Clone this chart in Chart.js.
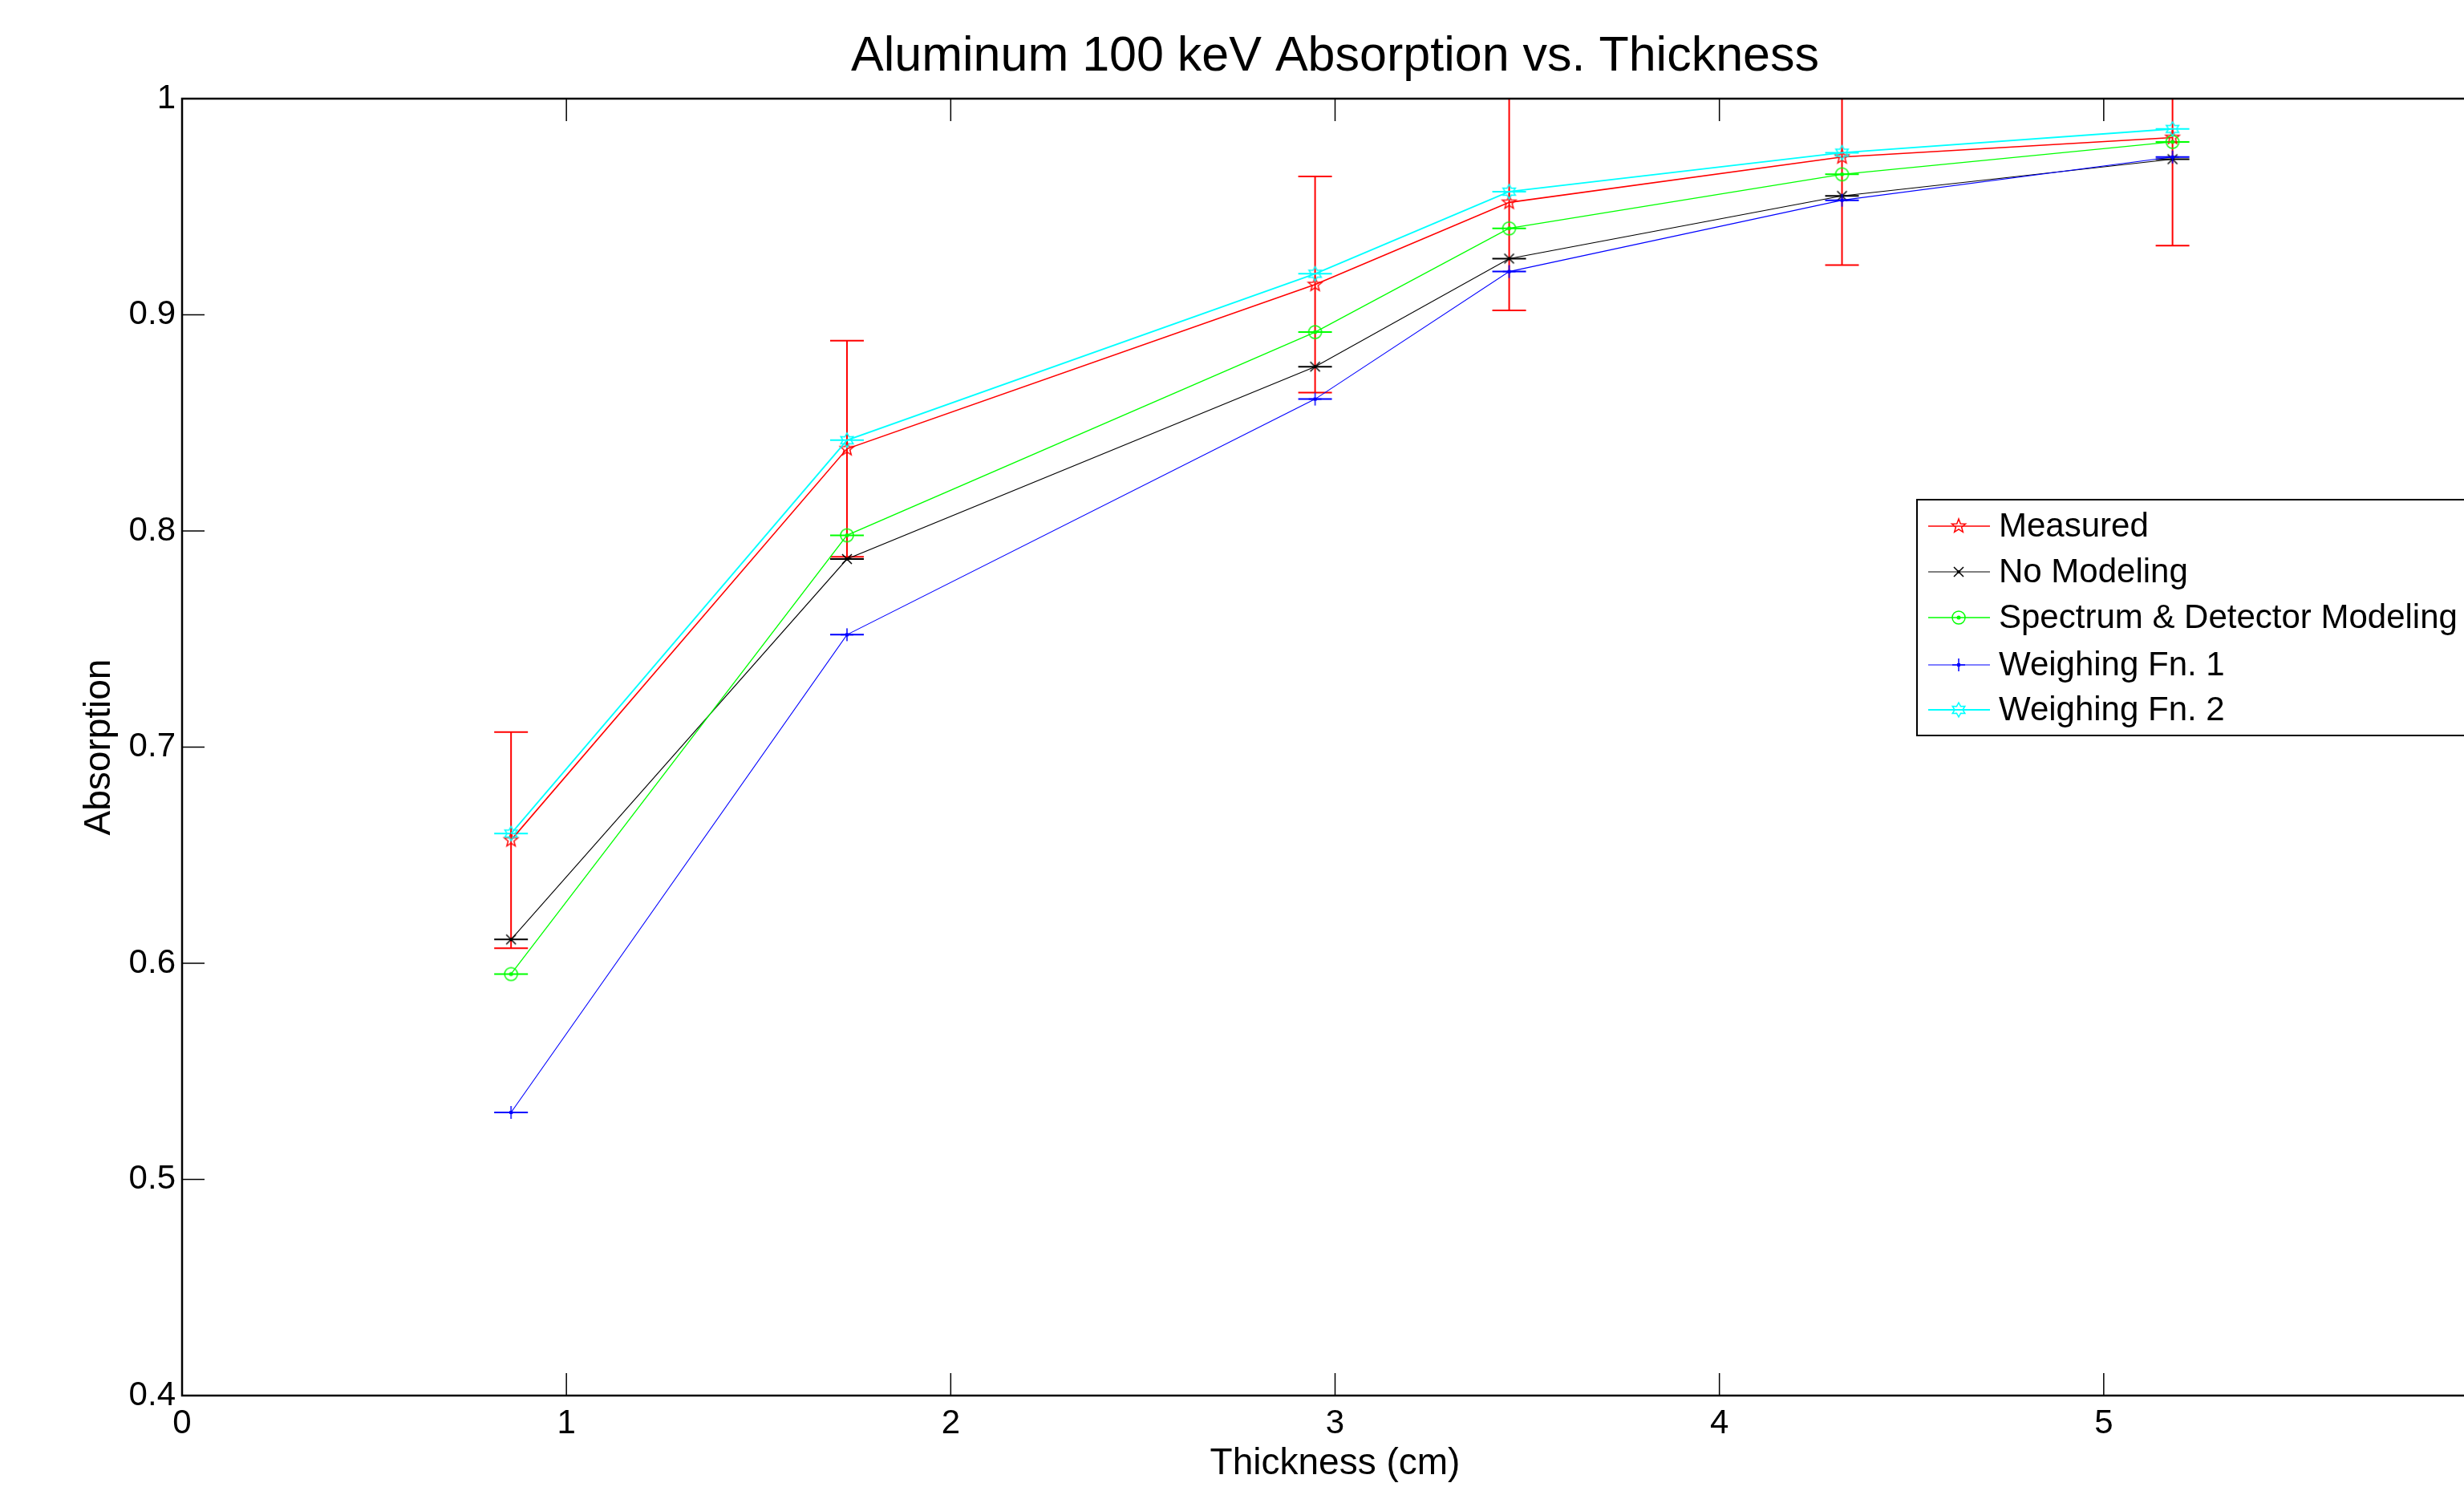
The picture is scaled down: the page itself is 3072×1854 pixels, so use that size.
<!DOCTYPE html>
<html>
<head>
<meta charset="utf-8">
<script src="https://cdn.jsdelivr.net/npm/chart.js@4.4.1/dist/chart.umd.min.js"></script>
<style>
  html, body { margin: 0; padding: 0; background: #fff; overflow: hidden; }
  #wrap { width: 3140px; height: 1854px; }
</style>
</head>
<body>
<div id="wrap"><canvas id="chartAbs" width="3140" height="1854"></canvas></div>
<script>
// data
const thickness = [0.856, 1.730, 2.948, 3.453, 4.319, 5.179];
const measured = [0.657, 0.838, 0.914, 0.952, 0.973, 0.982];
const measuredErr = [0.05, 0.05, 0.05, 0.05, 0.05, 0.05];
const noModeling = [0.611, 0.787, 0.876, 0.926, 0.955, 0.972];
const spectrumDetector = [0.595, 0.798, 0.892, 0.940, 0.965, 0.980];
const weighingFn1 = [0.531, 0.752, 0.861, 0.920, 0.953, 0.973];
const weighingFn2 = [0.660, 0.842, 0.919, 0.957, 0.975, 0.986];
const xTicks = [0, 1, 2, 3, 4, 5, 6];
const yTicks = [0.4, 0.5, 0.6, 0.7, 0.8, 0.9, 1];

const FONT = "'Liberation Sans', Arial, Helvetica, sans-serif";

// small marker images (matlab style)
function makeMarker(kind, color) {
  const c = document.createElement('canvas');
  c.width = 24; c.height = 24;
  const g = c.getContext('2d');
  g.strokeStyle = color; g.fillStyle = color; g.lineWidth = 1.5;
  g.translate(12, 12);
  g.beginPath();
  if (kind === 'pentagram') {
    for (let k = 0; k < 10; k++) {
      const r = k % 2 ? 3.8 : 9;
      const a = -Math.PI / 2 + k * Math.PI / 5;
      g.lineTo(r * Math.cos(a), r * Math.sin(a));
    }
    g.closePath(); g.stroke();
  } else if (kind === 'hexagram') {
    for (let k = 0; k < 12; k++) {
      const r = k % 2 ? 5 : 9;
      const a = -Math.PI / 2 + k * Math.PI / 6;
      g.lineTo(r * Math.cos(a), r * Math.sin(a));
    }
    g.closePath(); g.stroke();
  } else if (kind === 'circle') {
    g.arc(0, 0, 8, 0, Math.PI * 2); g.stroke();
    g.beginPath(); g.arc(0, 0, 2.5, 0, Math.PI * 2); g.fill();
  } else if (kind === 'plus') {
    g.moveTo(-8, 0); g.lineTo(8, 0); g.moveTo(0, -8); g.lineTo(0, 8); g.stroke();
    g.fillRect(-2, -2, 4, 4);
  } else if (kind === 'x') {
    g.moveTo(-6, -6); g.lineTo(6, 6); g.moveTo(6, -6); g.lineTo(-6, 6); g.stroke();
    g.fillRect(-2, -2, 4, 4);
  }
  return c;
}

const series = [
  { label: 'Measured', values: measured, err: measuredErr, color: '#ff0000', marker: 'pentagram', width: 1.6, order: 5 },
  { label: 'No Modeling', values: noModeling, err: null, color: '#000000', marker: 'x', width: 1.1, order: 4 },
  { label: 'Spectrum & Detector Modeling', values: spectrumDetector, err: null, color: '#00ff00', marker: 'circle', width: 1.3, order: 3 },
  { label: 'Weighing Fn. 1', values: weighingFn1, err: null, color: '#0000ff', marker: 'plus', width: 1.1, order: 2 },
  { label: 'Weighing Fn. 2', values: weighingFn2, err: null, color: '#00ffff', marker: 'hexagram', width: 1.8, order: 1 }
];

const datasets = series.map(s => ({
  label: s.label,
  data: thickness.map((x, i) => ({ x: x, y: s.values[i] })),
  borderColor: s.color,
  backgroundColor: s.color,
  borderWidth: s.width,
  pointStyle: makeMarker(s.marker, s.color),
  pointRadius: 9,
  order: s.order,
  errors: s.err,
  tension: 0,
  clip: false
}));

// error bars, inward ticks, box, title and legend
const matlabLook = {
  id: 'matlabLook',
  beforeDatasetsDraw(chart) {
    const { ctx, chartArea: a, scales: { x, y } } = chart;
    ctx.save();
    ctx.beginPath();
    ctx.rect(a.left, a.top, a.right - a.left, a.bottom - a.top);
    ctx.clip();
    chart.data.datasets.forEach(ds => {
      ctx.strokeStyle = ds.borderColor;
      ctx.lineWidth = 2;
      ds.data.forEach((p, i) => {
        const px = x.getPixelForValue(p.x);
        const e = ds.errors ? ds.errors[i] : 0;
        const yTop = y.getPixelForValue(p.y + e);
        const yBot = y.getPixelForValue(p.y - e);
        ctx.beginPath();
        if (e) { ctx.moveTo(px, yTop); ctx.lineTo(px, yBot); }
        ctx.moveTo(px - 21, yTop); ctx.lineTo(px + 21, yTop);
        ctx.moveTo(px - 21, yBot); ctx.lineTo(px + 21, yBot);
        ctx.stroke();
      });
    });
    ctx.restore();
  },
  afterDraw(chart) {
    const { ctx, chartArea: a, scales: { x, y } } = chart;
    const tick = 28;
    ctx.save();
    ctx.strokeStyle = '#000';
    ctx.lineWidth = 1.5;
    ctx.beginPath();
    xTicks.forEach(v => {
      const px = x.getPixelForValue(v);
      ctx.moveTo(px, a.bottom); ctx.lineTo(px, a.bottom - tick);
      ctx.moveTo(px, a.top); ctx.lineTo(px, a.top + tick);
    });
    yTicks.forEach(v => {
      const py = y.getPixelForValue(v);
      ctx.moveTo(a.left, py); ctx.lineTo(a.left + tick, py);
      ctx.moveTo(a.right, py); ctx.lineTo(a.right - tick, py);
    });
    ctx.stroke();
    ctx.lineWidth = 2.5;
    ctx.strokeRect(a.left, a.top, a.right - a.left, a.bottom - a.top);

    // title
    ctx.fillStyle = '#000';
    ctx.font = '61px ' + FONT;
    ctx.textAlign = 'center';
    ctx.textBaseline = 'alphabetic';
    ctx.fillText('Aluminum 100 keV Absorption vs. Thickness', (a.left + a.right) / 2, 88);

    // legend box
    const lx = 2390, ly = 623, lh = 294;
    ctx.fillStyle = '#fff';
    ctx.fillRect(lx, ly, 760, lh);
    ctx.lineWidth = 2;
    ctx.strokeStyle = '#000';
    ctx.strokeRect(lx, ly, 760, lh);
    const rows = [656, 713, 770, 829, 885];
    ctx.font = '42px ' + FONT;
    ctx.textAlign = 'left';
    ctx.textBaseline = 'middle';
    chart.data.datasets.forEach((ds, i) => {
      const ry = rows[i];
      ctx.strokeStyle = ds.borderColor;
      ctx.lineWidth = ds.borderWidth;
      ctx.beginPath();
      ctx.moveTo(2404, ry); ctx.lineTo(2481, ry);
      ctx.stroke();
      const img = ds.pointStyle;
      ctx.drawImage(img, 2442 - img.width / 2, ry - img.height / 2);
      ctx.fillStyle = '#000';
      ctx.fillText(ds.label, 2492, ry + 1);
    });
    ctx.restore();
  }
};

const ctx = document.getElementById('chartAbs');
new Chart(ctx, {
  type: 'line',
  data: { datasets: datasets },
  plugins: [matlabLook],
  options: {
    responsive: false,
    animation: false,
    devicePixelRatio: 1,
    layout: { padding: { left: 0, top: 123, right: 38, bottom: 0 } },
    plugins: {
      legend: { display: false },
      title: { display: false },
      tooltip: { enabled: false }
    },
    scales: {
      x: {
        type: 'linear',
        min: 0, max: 6,
        afterBuildTicks: s => { s.ticks = xTicks.map(v => ({ value: v })); },
        afterFit: s => { s.height = 114; },
        grid: { display: false, drawTicks: false },
        border: { display: false },
        ticks: { color: '#000', padding: 10, maxRotation: 0, font: { family: FONT, size: 42 } },
        title: {
          display: true, text: 'Thickness (cm)', color: '#000',
          padding: { top: 0, bottom: 1 },
          font: { family: FONT, size: 46 }
        }
      },
      y: {
        type: 'linear',
        min: 0.4, max: 1,
        afterBuildTicks: s => { s.ticks = yTicks.map(v => ({ value: v })); },
        afterFit: s => { s.width = 227; },
        grid: { display: false, drawTicks: false },
        border: { display: false },
        ticks: {
          color: '#000', padding: 8, font: { family: FONT, size: 42 },
          callback: v => String(+v.toFixed(1))
        },
        title: {
          display: true, text: 'Absorption', color: '#000',
          padding: { top: 97, bottom: 0 },
          font: { family: FONT, size: 46 }
        }
      }
    }
  }
});
</script>
</body>
</html>
